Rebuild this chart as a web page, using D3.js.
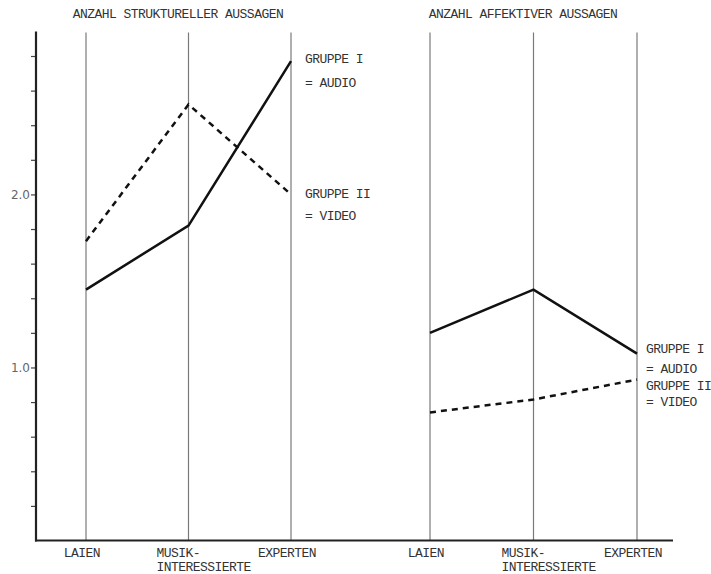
<!DOCTYPE html>
<html><head><meta charset="utf-8">
<script src="https://cdn.jsdelivr.net/npm/d3@7"></script>
<style>body{margin:0;background:#fff}</style>
</head><body>
<script>
const categories = ["LAIEN", "MUSIK-\nINTERESSIERTE", "EXPERTEN"];
const strukturAudio = [1.45, 1.82, 2.77];
const strukturVideo = [1.73, 2.52, 2.00];
const affektivAudio = [1.20, 1.45, 1.08];
const affektivVideo = [0.74, 0.815, 0.93];
const yTicks = [0.2,0.4,0.6,0.8,1.0,1.2,1.4,1.6,1.8,2.0,2.2,2.4,2.6,2.8];
const yTickLabels = {"1": "1.0", "2": "2.0"};
const panelTitles = ["ANZAHL STRUKTURELLER AUSSAGEN", "ANZAHL AFFEKTIVER AUSSAGEN"];
const groupLabels = [["GRUPPE I", "= AUDIO"], ["GRUPPE II", "= VIDEO"]];

const W = 711, H = 574;
const svg = d3.select("body").append("svg").attr("width", W).attr("height", H);
const font = "'Liberation Mono', 'DejaVu Sans Mono', monospace";
const FS = 13, LS = -0.55;

const y = d3.scaleLinear().domain([0, 2.93]).range([540.5, 33.5]);
const xL = d3.scalePoint().domain(categories).range([86, 291]);
const xR = d3.scalePoint().domain(categories).range([430, 637]);

function txt(x, yy, s, anchor) {
  return svg.append("text").attr("x", x).attr("y", yy).attr("text-anchor", anchor || "start")
    .attr("font-family", font).attr("font-size", FS).attr("letter-spacing", LS)
    .attr("fill", "#333").text(s);
}

// category vertical lines
[xL, xR].forEach(x => {
  categories.forEach(c => {
    svg.append("line").attr("x1", x(c)).attr("x2", x(c))
      .attr("y1", y(2.93) - 1).attr("y2", y(0))
      .attr("stroke", "#7a7a7a").attr("stroke-width", 1.2);
  });
});

// y axis
const yAxis = d3.axisLeft(y).tickValues(yTicks).tickSize(5)
  .tickFormat(d => yTickLabels[String(Math.round(d*10)/10)] || "");
const ga = svg.append("g").attr("transform", "translate(36,0)").call(yAxis);
ga.select(".domain").remove();
ga.selectAll(".tick line").attr("stroke", "#444").attr("stroke-width", 1.2);
ga.selectAll(".tick text").attr("font-family", "'DejaVu Sans', sans-serif")
  .attr("font-size", 12).attr("fill", "#666").attr("x", -6).attr("dy", "0.35em");
svg.append("line").attr("x1", 36).attr("x2", 36).attr("y1", y(2.93) - 2).attr("y2", y(0) + 1)
  .attr("stroke", "#222").attr("stroke-width", 2.2);
// baseline
svg.append("line").attr("x1", 35).attr("x2", 673).attr("y1", y(0)).attr("y2", y(0))
  .attr("stroke", "#222").attr("stroke-width", 2.2);

// lines
const line = x => d3.line().x((d, i) => x(categories[i])).y(d => y(d));
function drawSeries(x, data, dashed) {
  svg.append("path").datum(data).attr("d", line(x))
    .attr("fill", "none").attr("stroke", "#111").attr("stroke-width", 2.5)
    .attr("stroke-linejoin", "miter")
    .attr("stroke-dasharray", dashed ? "6,5" : null);
}
drawSeries(xL, strukturAudio, false);
drawSeries(xL, strukturVideo, true);
drawSeries(xR, affektivAudio, false);
drawSeries(xR, affektivVideo, true);

// titles
txt(178, 18, panelTitles[0], "middle");
txt(523, 18, panelTitles[1], "middle");

// x labels
[xL, xR].forEach(x => {
  categories.forEach(c => {
    const lines = c.split("\n");
    if (lines.length === 1) {
      txt(x(c) - 4, 557, c, "middle");
    } else {
      lines.forEach((l, j) => txt(x(c) - 32, 557 + j * 13.5, l));
    }
  });
});

// group labels
function groupLabel(xp, ys, lbl) {
  lbl.forEach((l, j) => txt(xp, ys[j], l));
}
groupLabel(305, [63, 87], groupLabels[0]);
groupLabel(305, [198, 220], groupLabels[1]);
groupLabel(646, [353, 373], groupLabels[0]);
groupLabel(646, [390, 406], groupLabels[1]);
</script>
</body></html>
